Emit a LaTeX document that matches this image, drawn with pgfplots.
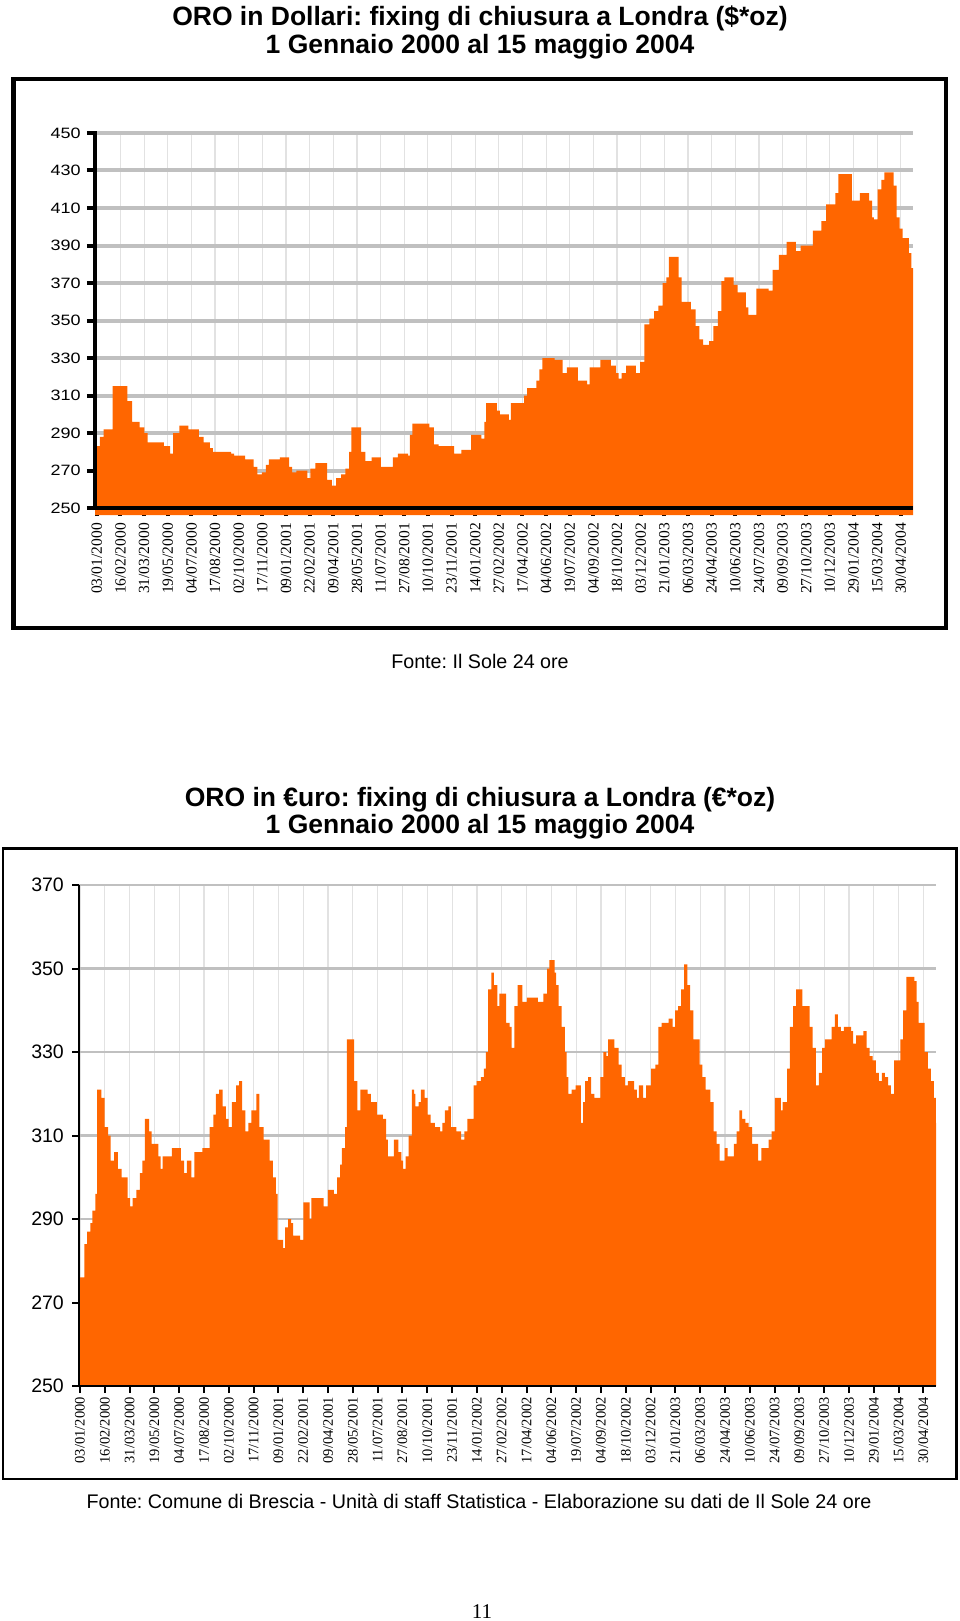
\documentclass[border=0pt]{standalone}
\usepackage{fontspec}
\setmainfont{Liberation Sans}
\newfontfamily\serif{Liberation Serif}
\usepackage{pgfplots}
\usepackage{pgfplotstable}
\pgfplotsset{compat=1.18}
\definecolor{oro}{RGB}{255,102,0}
\definecolor{hgrid}{RGB}{192,192,192}
\definecolor{vgrid}{RGB}{226,226,226}
\frenchspacing

% x = position in chart units (tick k at k*35/34), v = fixing
\pgfplotstableread{
t v
-0.08 283
0.13 288
0.29 292
0.69 315
1.33 307
1.54 296
1.86 293
2.07 290
2.21 285
2.92 283
3.19 279
3.32 290
3.59 294
3.99 292
4.44 288
4.65 285
4.92 282
5.05 280
5.85 279
5.98 278
6.46 276
6.83 272
6.99 268
7.18 269
7.36 273
7.49 276
7.97 277
8.37 272
8.50 269
8.69 270
9.17 266
9.30 271
9.51 274
10.02 265
10.23 262
10.42 266
10.63 268
10.82 271
10.98 280
11.08 293
11.51 280
11.69 275
11.96 277
12.36 272
12.89 277
13.10 279
13.55 278
13.63 289
13.74 295
14.48 293
14.67 284
14.88 283
15.55 279
15.87 281
16.29 289
16.74 287
16.87 296
16.95 306
17.41 302
17.54 300
17.94 297
18.02 306
18.60 310
18.73 314
19.13 318
19.27 324
19.40 330
19.93 329
20.28 322
20.46 325
20.94 318
21.34 316
21.45 325
21.92 329
22.38 326
22.59 322
22.72 319
22.85 322
23.04 326
23.47 322
23.65 328
23.84 348
24.05 351
24.26 355
24.45 358
24.63 370
24.79 373
24.90 384
25.33 373
25.46 360
25.86 356
26.07 347
26.23 340
26.39 337
26.65 339
26.84 347
27.03 355
27.19 371
27.32 373
27.72 369
27.90 365
28.25 357
28.36 353
28.71 367
29.24 366
29.42 377
29.69 385
30.03 392
30.43 387
30.64 390
31.17 398
31.54 403
31.75 412
32.15 418
32.28 428
32.87 414
33.22 418
33.62 414
33.75 405
33.83 404
33.99 420
34.15 425
34.28 429
34.69 422
34.82 405
34.95 399
35.08 394
35.35 386
35.46 378
35.53 378
}\dollari

\pgfplotstableread{
t v
-0.04 276
0.18 284
0.30 287
0.43 289
0.51 292
0.64 296
0.71 321
0.89 319
1.02 312
1.17 310
1.27 304
1.42 306
1.57 302
1.73 300
1.98 295
2.08 293
2.18 295
2.34 297
2.49 301
2.59 304
2.69 314
2.87 311
2.97 308
3.25 305
3.35 302
3.43 305
3.81 307
4.19 304
4.32 301
4.44 304
4.62 300
4.75 306
5.08 307
5.38 312
5.54 315
5.64 320
5.77 321
5.92 317
6.05 314
6.17 312
6.30 318
6.48 322
6.60 323
6.73 316
6.86 311
6.99 313
7.11 316
7.32 320
7.44 312
7.62 309
7.87 304
8.00 300
8.13 296
8.20 285
8.43 283
8.51 288
8.64 290
8.76 289
8.84 286
9.14 285
9.27 294
9.53 290
9.60 295
10.11 293
10.29 297
10.54 296
10.67 300
10.80 303
10.87 307
11.00 312
11.07 333
11.38 323
11.51 316
11.63 321
11.94 320
12.07 318
12.32 315
12.57 314
12.70 309
12.78 305
13.03 309
13.21 306
13.34 304
13.41 302
13.51 305
13.64 310
13.77 321
13.87 320
13.92 317
14.05 318
14.15 321
14.30 319
14.43 315
14.55 313
14.73 312
14.94 311
15.04 313
15.14 316
15.29 317
15.39 312
15.62 311
15.82 309
15.95 311
16.08 314
16.33 322
16.46 323
16.64 324
16.76 326
16.84 330
16.94 345
17.07 349
17.17 346
17.32 341
17.40 344
17.68 337
17.83 336
17.91 331
18.03 341
18.16 346
18.36 342
18.54 343
19.00 342
19.23 344
19.38 350
19.48 352
19.69 349
19.76 346
19.86 341
19.99 336
20.12 330
20.19 324
20.27 320
20.40 321
20.57 322
20.78 313
20.88 318
20.96 323
21.08 324
21.21 320
21.34 319
21.59 324
21.72 330
21.84 329
21.92 333
22.17 331
22.35 327
22.48 324
22.61 322
22.73 323
22.99 321
23.11 319
23.19 322
23.37 319
23.49 322
23.70 326
23.88 327
24.00 336
24.13 337
24.43 338
24.59 336
24.69 340
24.82 341
24.94 345
25.07 351
25.20 346
25.32 340
25.45 333
25.71 327
25.83 324
25.96 321
26.16 318
26.29 311
26.42 308
26.54 304
26.75 307
26.87 305
27.13 308
27.25 311
27.36 316
27.48 314
27.61 313
27.74 312
27.89 308
28.14 304
28.27 307
28.57 309
28.70 311
28.83 319
29.08 316
29.16 318
29.34 326
29.46 336
29.59 341
29.72 345
29.97 341
30.28 336
30.40 331
30.53 322
30.66 325
30.79 331
30.91 333
31.19 336
31.32 339
31.45 336
31.57 335
31.70 336
32.00 335
32.08 332
32.21 334
32.51 335
32.64 331
32.77 329
32.89 328
33.02 325
33.15 323
33.27 325
33.40 324
33.53 322
33.65 320
33.78 328
34.04 333
34.16 340
34.29 348
34.62 347
34.72 342
34.80 337
35.05 330
35.18 326
35.31 323
35.43 319
35.51 313
35.52 313
}\euro

\pgfplotsset{oroaxis/.style={
  scale only axis, clip mode=individual,
  axis line style={draw=none},
  tick pos=left, tick align=outside,
  xtick={0,1.0294118,...,35.01},
  xticklabels={03/01/2000,16/02/2000,31/03/2000,19/05/2000,04/07/2000,17/08/2000,02/10/2000,17/11/2000,09/01/2001,22/02/2001,09/04/2001,28/05/2001,11/07/2001,27/08/2001,10/10/2001,23/11/2001,14/01/2002,27/02/2002,17/04/2002,04/06/2002,19/07/2002,04/09/2002,18/10/2002,03/12/2002,21/01/2003,06/03/2003,24/04/2003,10/06/2003,24/07/2003,09/09/2003,27/10/2003,10/12/2003,29/01/2004,15/03/2004,30/04/2004},
  xmajorgrids, ymajorgrids,
  x grid style={vgrid, line width=1.2pt},
  xticklabel style={rotate=90, anchor=east, inner sep=0pt},
  yticklabel style={anchor=east, inner sep=0pt},
  /pgf/number format/assume math mode=true,
}}

\begin{document}
\begin{tikzpicture}[x=1pt,y=1pt]
\useasboundingbox (0pt,0pt) rectangle (960pt,-1621pt);

% ---------- titles and frames ----------
\node[anchor=base, font=\bfseries\fontsize{26.5}{30}\selectfont] at (480pt,-26pt) {ORO in Dollari: fixing di chiusura a Londra (\$*oz)};
\node[anchor=base, font=\bfseries\fontsize{26.5}{30}\selectfont] at (480pt,-54pt) {1 Gennaio 2000 al 15 maggio 2004};
\draw[line width=4.5pt] (13.5pt,-79pt) rectangle (946pt,-628pt);
\node[anchor=base, font=\fontsize{19.7}{22}\selectfont] at (480pt,-668pt) {Fonte: Il Sole 24 ore};

\node[anchor=base, font=\bfseries\fontsize{26.5}{30}\selectfont] at (480pt,-806.5pt) {ORO in €uro: fixing di chiusura a Londra (€*oz)};
\node[anchor=base, font=\bfseries\fontsize{26.5}{30}\selectfont] at (480pt,-833pt) {1 Gennaio 2000 al 15 maggio 2004};
\draw[line width=2.5pt] (3pt,-848.5pt) rectangle (956.5pt,-1479pt);
\node[anchor=base, font=\fontsize{19.7}{22}\selectfont] at (479pt,-1508pt) {Fonte: Comune di Brescia - Unità di staff Statistica - Elaborazione su dati de Il Sole 24 ore};
\node[anchor=base, font=\serif\fontsize{21}{22}\selectfont] at (482pt,-1618pt) {11};

% ---------- chart 1: dollars ----------
\begin{axis}[oroaxis,
  at={(95pt,-515pt)}, anchor=south west, width=818pt, height=382pt,
  xmin=-0.08, xmax=35.53, ymin=246.27, ymax=450,
  ytick={250,270,...,450},
  y grid style={hgrid, line width=4pt},
  tick style={black, line width=4pt}, major tick length=8pt,
  xtick style={yshift=7pt},
  xticklabel shift=0pt, yticklabel shift=6pt,
  xticklabel style={font=\serif\fontsize{15.5}{15.5}\selectfont},
  yticklabel style={font=\fontsize{15}{15}\selectfont, xscale=1.2},
]
\addplot[const plot, fill=oro, draw=none] table[x=t, y=v] {\dollari} \closedcycle;
\draw[line width=4pt] (axis cs:-0.08,250) -- (axis cs:35.53,250);
\draw[line width=4pt] (axis cs:-0.08,248.9) -- (axis cs:-0.08,451);
\end{axis}

% ---------- chart 2: euro ----------
\begin{axis}[oroaxis,
  at={(79pt,-1386pt)}, anchor=south west, width=857pt, height=501pt,
  xmin=-0.04, xmax=35.52, ymin=250, ymax=370,
  ytick={250,270,...,370},
  y grid style={hgrid, line width=2.5pt},
  tick style={black, line width=2pt}, major tick length=7pt,
  xticklabel shift=4pt, yticklabel shift=8pt,
  xticklabel style={font=\serif\fontsize{14.5}{14.5}\selectfont},
  yticklabel style={font=\fontsize{19.5}{19.5}\selectfont},
]
\addplot[const plot, fill=oro, draw=none] table[x=t, y=v] {\euro} \closedcycle;
\draw[line width=2.5pt] (axis cs:-0.04,250) -- (axis cs:35.52,250);
\draw[line width=2.5pt] (axis cs:-0.04,249.7) -- (axis cs:-0.04,370);
\end{axis}
\end{tikzpicture}
\end{document}
